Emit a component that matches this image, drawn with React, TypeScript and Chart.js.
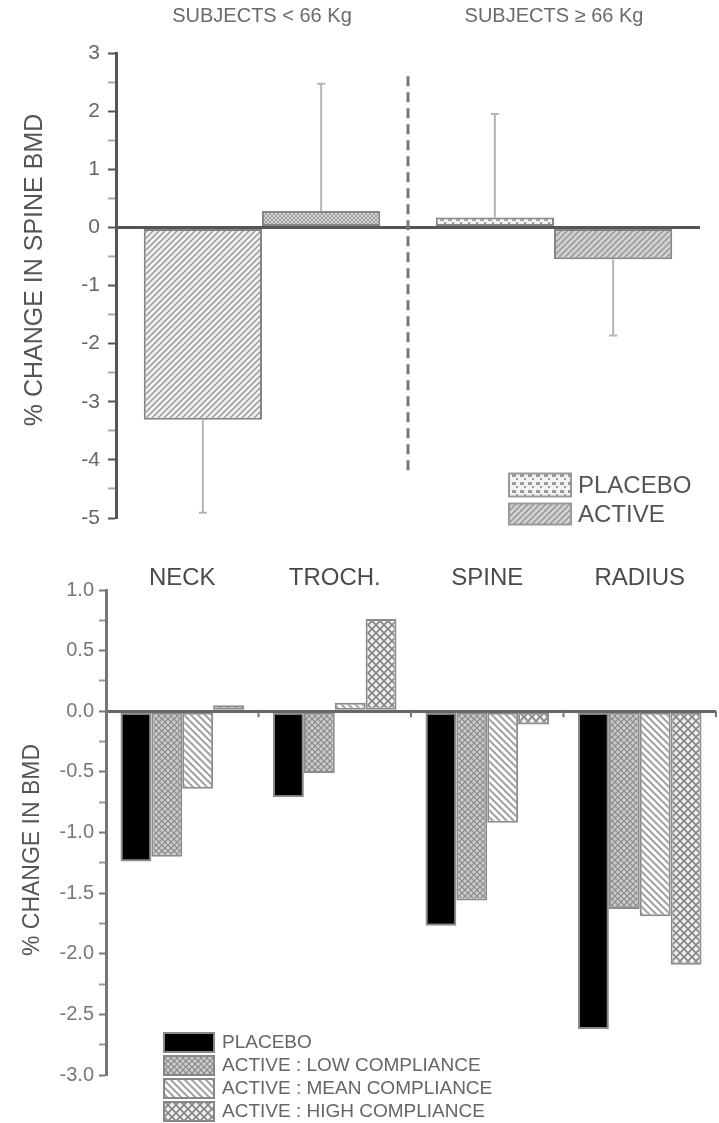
import React, { useEffect, useRef } from 'react';
import { Chart, registerables } from 'chart.js';

Chart.register(...registerables);

// ---------- DATA: top chart (spine BMD by body weight) ----------
const weightGroups = ['SUBJECTS < 66 Kg', 'SUBJECTS \u2265 66 Kg'];
const topSeriesNames = ['PLACEBO', 'ACTIVE'];
const spinePlacebo = [-3.31, 0.17];
const spineActive = [0.28, -0.55];
const spinePlaceboErr = [1.6, 1.78];
const spineActiveErr = [2.19, 1.31];
const topYMin = -5;
const topYMax = 3;
const topYTitle = '% CHANGE IN SPINE BMD';

// ---------- DATA: bottom chart (compliance by site) ----------
const sites = ['NECK', 'TROCH.', 'SPINE', 'RADIUS'];
const bottomSeriesNames = [
  'PLACEBO',
  'ACTIVE : LOW COMPLIANCE',
  'ACTIVE : MEAN COMPLIANCE',
  'ACTIVE : HIGH COMPLIANCE',
];
const placeboBMD = [-1.24, -0.71, -1.77, -2.62];
const lowBMD = [-1.2, -0.51, -1.56, -1.63];
const meanBMD = [-0.64, 0.07, -0.92, -1.69];
const highBMD = [0.05, 0.76, -0.11, -2.09];
const botYMin = -3;
const botYMax = 1;
const botYTitle = '% CHANGE IN BMD';

const FONT = '"Liberation Sans", Arial, Helvetica, sans-serif';

// ---------- pattern helpers ----------
function tile(size: number, draw: (c: CanvasRenderingContext2D, s: number) => void, bg: string) {
  const cv = document.createElement('canvas');
  cv.width = size;
  cv.height = size;
  const c = cv.getContext('2d')!;
  c.fillStyle = bg;
  c.fillRect(0, 0, size, size);
  draw(c, size);
  const ref = document.createElement('canvas').getContext('2d')!;
  return ref.createPattern(cv, 'repeat')!;
}
function diag(bg: string, fg: string, s: number, lw: number, dir: 'f' | 'b' | 'x') {
  return tile(
    s,
    (c, n) => {
      c.strokeStyle = fg;
      c.lineWidth = lw;
      const fwd = () => {
        c.beginPath();
        c.moveTo(-n, n * 2);
        c.lineTo(n * 2, -n);
        c.moveTo(-n, n);
        c.lineTo(n, -n);
        c.moveTo(0, n * 2);
        c.lineTo(n * 2, 0);
        c.stroke();
      };
      const back = () => {
        c.beginPath();
        c.moveTo(-n, -n);
        c.lineTo(n * 2, n * 2);
        c.moveTo(0, -n);
        c.lineTo(n * 2, n);
        c.moveTo(-n, 0);
        c.lineTo(n, n * 2);
        c.stroke();
      };
      if (dir === 'f' || dir === 'x') fwd();
      if (dir === 'b' || dir === 'x') back();
    },
    bg
  );
}
function dashes(bg: string, fg: string) {
  return tile(
    8,
    (c) => {
      c.fillStyle = fg;
      c.fillRect(0, 2, 4, 3);
      c.fillRect(4, 6, 2, 2);
    },
    bg
  );
}

export default function App() {
  const topRef = useRef<HTMLCanvasElement>(null);
  const botRef = useRef<HTMLCanvasElement>(null);

  useEffect(() => {
    document.body.style.margin = '0';
    Chart.defaults.font.family = FONT;

    // ---------------- TOP CHART ----------------
    const pPlaceboA = diag('#f3f3f3', '#a2a2a2', 6, 1.6, 'f');
    const pActiveA = diag('#d4d4d4', '#a0a0a0', 4, 1, 'x');
    const pPlaceboB = dashes('#f2f2f2', '#9a9a9a');
    const pActiveB = diag('#d4d4d4', '#9e9e9e', 6, 1.8, 'f');
    const errs = [spinePlaceboErr, spineActiveErr];

    const topDecor = {
      id: 'topDecor',
      afterDatasetsDraw(chart: any) {
        const { ctx, scales } = chart;
        const x = scales.x;
        const y = scales.y;
        ctx.save();
        // error bars (one-sided, away from zero)
        chart.data.datasets.forEach((ds: any, di: number) => {
          const meta = chart.getDatasetMeta(di);
          meta.data.forEach((bar: any, i: number) => {
            const v = ds.data[i] as number;
            const end = v + Math.sign(v) * errs[di][i];
            const y0 = y.getPixelForValue(v);
            const y1 = y.getPixelForValue(end);
            ctx.strokeStyle = '#b5b5b5';
            ctx.lineWidth = 2;
            ctx.beginPath();
            ctx.moveTo(bar.x, y0);
            ctx.lineTo(bar.x, y1);
            ctx.moveTo(bar.x - 4, y1);
            ctx.lineTo(bar.x + 4, y1);
            ctx.stroke();
          });
        });
        // dashed divider between groups
        const xm = (x.getPixelForValue(0) + x.getPixelForValue(1)) / 2;
        ctx.strokeStyle = '#777';
        ctx.lineWidth = 3;
        ctx.setLineDash([10, 6]);
        ctx.beginPath();
        ctx.moveTo(xm, y.getPixelForValue(2.6));
        ctx.lineTo(xm, y.getPixelForValue(-4.25));
        ctx.stroke();
        ctx.setLineDash([]);
        // group titles
        ctx.fillStyle = '#6a6a6a';
        ctx.font = `20px ${FONT}`;
        ctx.textAlign = 'center';
        ctx.textBaseline = 'middle';
        weightGroups.forEach((g, i) => ctx.fillText(g, x.getPixelForValue(i), 16));
        // y title
        ctx.save();
        ctx.translate(35, 270);
        ctx.rotate(-Math.PI / 2);
        ctx.fillStyle = '#555';
        ctx.font = `25px ${FONT}`;
        ctx.fillText(topYTitle, 0, 0);
        ctx.restore();
        // legend (lower right)
        const rows = [485, 514];
        chart.data.datasets.forEach((ds: any, di: number) => {
          const cy = rows[di];
          const bx = 509;
          const bw = 62;
          const bh = di === 0 ? 23 : 21;
          ctx.fillStyle = ds.backgroundColor[1];
          ctx.fillRect(bx, cy - bh / 2, bw, bh);
          ctx.strokeStyle = '#999';
          ctx.lineWidth = 2;
          ctx.strokeRect(bx, cy - bh / 2, bw, bh);
          ctx.fillStyle = '#555';
          ctx.font = `24px ${FONT}`;
          ctx.textAlign = 'left';
          ctx.textBaseline = 'middle';
          ctx.fillText(ds.label, 578, cy + 1);
        });
        ctx.restore();
      },
    };

    const c1 = new Chart(topRef.current!, {
      type: 'bar',
      data: {
        labels: weightGroups,
        datasets: [
          {
            label: topSeriesNames[0],
            data: spinePlacebo,
            backgroundColor: [pPlaceboA, pPlaceboB] as any,
            borderColor: '#858585',
            borderWidth: 2,
            borderSkipped: false,
          },
          {
            label: topSeriesNames[1],
            data: spineActive,
            backgroundColor: [pActiveA, pActiveB] as any,
            borderColor: '#858585',
            borderWidth: 2,
            borderSkipped: false,
          },
        ],
      },
      options: {
        responsive: false,
        animation: false,
        layout: { padding: { top: 53, bottom: 27, left: 0, right: 19 } },
        datasets: { bar: { barPercentage: 1, categoryPercentage: 0.81 } },
        plugins: { legend: { display: false }, tooltip: { enabled: false } },
        scales: {
          x: { type: 'category', display: false },
          y: {
            type: 'linear',
            min: topYMin,
            max: topYMax,
            afterFit: (s: any) => {
              s.width = 116;
            },
            border: { display: true, color: '#555', width: 3 },
            grid: {
              color: (c: any) => (c.tick && c.tick.value === 0 ? '#555' : 'rgba(0,0,0,0)'),
              lineWidth: (c: any) => (c.tick && c.tick.value === 0 ? 3 : 1),
              drawTicks: true,
              tickLength: 8,
              tickWidth: 2,
              tickColor: (c: any) => (c.tick && Number.isInteger(c.tick.value) ? '#555' : '#aaa'),
            },
            ticks: {
              stepSize: 0.5,
              autoSkip: false,
              padding: 8,
              color: '#666',
              font: { size: 21, family: FONT },
              callback: (v: any) => (Number.isInteger(v) ? String(v) : ''),
            },
          },
        },
      } as any,
      plugins: [topDecor],
    });

    // ---------------- BOTTOM CHART ----------------
    const bPlacebo = '#000000';
    const bLow = diag('#cbcbcb', '#8a8a8a', 6, 1.2, 'x');
    const bMean = diag('#ffffff', '#a2a2a2', 7, 2, 'b');
    const bHigh = diag('#eeeeee', '#858585', 8, 1.6, 'x');

    const botDecor = {
      id: 'botDecor',
      afterDatasetsDraw(chart: any) {
        const { ctx, scales, chartArea } = chart;
        const x = scales.x;
        const y = scales.y;
        ctx.save();
        // category ticks on zero line
        const y0 = y.getPixelForValue(0);
        ctx.strokeStyle = '#777';
        ctx.lineWidth = 2;
        for (let i = 0; i < sites.length; i++) {
          const bx =
            i < sites.length - 1 ? (x.getPixelForValue(i) + x.getPixelForValue(i + 1)) / 2 : chartArea.right;
          ctx.beginPath();
          ctx.moveTo(bx, y0);
          ctx.lineTo(bx, y0 + 6);
          ctx.stroke();
        }
        // site titles
        ctx.fillStyle = '#4a4a4a';
        ctx.font = `24px ${FONT}`;
        ctx.textAlign = 'center';
        ctx.textBaseline = 'middle';
        sites.forEach((s, i) => ctx.fillText(s, x.getPixelForValue(i), 33));
        // y title
        ctx.save();
        ctx.translate(33, 305);
        ctx.rotate(-Math.PI / 2);
        ctx.fillStyle = '#555';
        ctx.font = `23px ${FONT}`;
        ctx.fillText(botYTitle, 0, 0);
        ctx.restore();
        // legend
        chart.data.datasets.forEach((ds: any, di: number) => {
          const top = 488 + di * 23;
          ctx.fillStyle = ds.backgroundColor;
          ctx.fillRect(164, top, 50, 19);
          ctx.strokeStyle = '#888';
          ctx.lineWidth = 2;
          ctx.strokeRect(164, top, 50, 19);
          ctx.fillStyle = '#666';
          ctx.font = `19px ${FONT}`;
          ctx.textAlign = 'left';
          ctx.textBaseline = 'middle';
          ctx.fillText(ds.label, 222, top + 10);
        });
        ctx.restore();
      },
    };

    const botColors = [bPlacebo, bLow, bMean, bHigh];
    const botValues = [placeboBMD, lowBMD, meanBMD, highBMD];

    const c2 = new Chart(botRef.current!, {
      type: 'bar',
      data: {
        labels: sites,
        datasets: bottomSeriesNames.map((name, i) => ({
          label: name,
          data: botValues[i],
          backgroundColor: botColors[i] as any,
          borderColor: '#8c8c8c',
          borderWidth: 2,
          borderSkipped: false,
        })),
      },
      options: {
        responsive: false,
        animation: false,
        layout: { padding: { top: 45, bottom: 48, left: 0, right: 3 } },
        datasets: { bar: { barPercentage: 1, categoryPercentage: 0.81 } },
        plugins: { legend: { display: false }, tooltip: { enabled: false } },
        scales: {
          x: { type: 'category', display: false },
          y: {
            type: 'linear',
            min: botYMin,
            max: botYMax,
            afterFit: (s: any) => {
              s.width = 106;
            },
            border: { display: true, color: '#777', width: 3 },
            grid: {
              color: (c: any) => (c.tick && c.tick.value === 0 ? '#666' : 'rgba(0,0,0,0)'),
              lineWidth: (c: any) => (c.tick && c.tick.value === 0 ? 3 : 1),
              drawTicks: true,
              tickLength: 7,
              tickWidth: 2,
              tickColor: (c: any) =>
                c.tick && Math.abs(c.tick.value * 2 - Math.round(c.tick.value * 2)) < 1e-6 ? '#777' : '#999',
            },
            ticks: {
              stepSize: 0.25,
              autoSkip: false,
              padding: 5,
              color: '#777',
              font: { size: 20, family: FONT },
              callback: (v: any) => {
                const n = Number(v);
                return Math.abs(n * 2 - Math.round(n * 2)) < 1e-6 ? n.toFixed(1) : '';
              },
            },
          },
        },
      } as any,
      plugins: [botDecor],
    });

    return () => {
      c1.destroy();
      c2.destroy();
    };
  }, []);

  return (
    <div style={{ position: 'relative', width: 719, height: 1123, background: '#fff' }}>
      <canvas ref={topRef} width={719} height={545} style={{ position: 'absolute', left: 0, top: 0 }} />
      <canvas ref={botRef} width={719} height={578} style={{ position: 'absolute', left: 0, top: 545 }} />
    </div>
  );
}
